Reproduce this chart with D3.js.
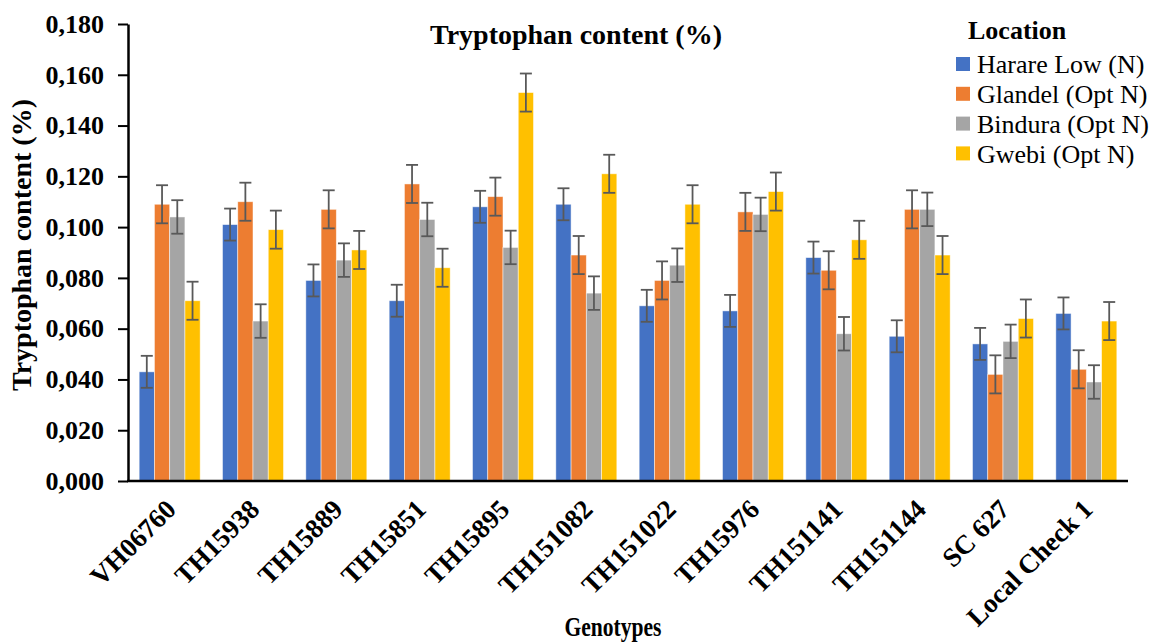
<!DOCTYPE html>
<html>
<head>
<meta charset="utf-8">
<script src="https://cdn.jsdelivr.net/npm/d3@7"></script>
<style>
  html, body { margin: 0; padding: 0; background: #fff; }
  svg { display: block; }
  svg text { font-family: "Liberation Serif", "Times New Roman", serif; }
</style>
</head>
<body>
<svg id="chart" width="1157" height="642"></svg>
<script>
// Genotypes on the x axis
const genotypes = ["VH06760", "TH15938", "TH15889", "TH15851", "TH15895", "TH151082",
  "TH151022", "TH15976", "TH151141", "TH151144", "SC 627", "Local Check 1"];

// Locations (series)
const locations = ["Harare Low (N)", "Glandel (Opt N)", "Bindura (Opt N)", "Gwebi (Opt N)"];
const colors = ["#4472C4", "#ED7D31", "#A5A5A5", "#FFC000"];

// Tryptophan content (%) per location, one value per genotype
const harareLow = [0.043, 0.101, 0.079, 0.071, 0.108, 0.109, 0.069, 0.067, 0.088, 0.057, 0.054, 0.066];
const glandel   = [0.109, 0.110, 0.107, 0.117, 0.112, 0.089, 0.079, 0.106, 0.083, 0.107, 0.042, 0.044];
const bindura   = [0.104, 0.063, 0.087, 0.103, 0.092, 0.074, 0.085, 0.105, 0.058, 0.107, 0.055, 0.039];
const gwebi     = [0.071, 0.099, 0.091, 0.084, 0.153, 0.121, 0.109, 0.114, 0.095, 0.089, 0.064, 0.063];

// Error bar half-widths per location
const errors = [0.0063, 0.0075, 0.0066, 0.0075];

// Y axis ticks
const yTicks = [0, 0.02, 0.04, 0.06, 0.08, 0.10, 0.12, 0.14, 0.16, 0.18];

const seriesValues = [harareLow, glandel, bindura, gwebi];
const serif = '"Liberation Serif", "Times New Roman", serif';

const svg = d3.select("#chart");
const plotLeft = 128, plotRight = 1128, plotTop = 24, plotBottom = 481;

const x0 = d3.scaleBand().domain(genotypes).range([plotLeft, plotRight])
  .paddingInner(0.268).paddingOuter(0.134);
const x1 = d3.scaleBand().domain(locations).range([0, x0.bandwidth()]);
const y = d3.scaleLinear().domain([0, 0.18]).range([plotBottom, plotTop]);

// Bars
const groups = svg.append("g").selectAll("g")
  .data(genotypes)
  .join("g")
  .attr("transform", d => `translate(${x0(d)},0)`);

groups.selectAll("rect")
  .data((g, gi) => locations.map((loc, si) => ({ loc, si, v: seriesValues[si][gi] })))
  .join("rect")
  .attr("x", d => x1(d.loc))
  .attr("y", d => y(d.v))
  .attr("width", x1.bandwidth())
  .attr("height", d => y(0) - y(d.v))
  .attr("fill", d => colors[d.si])
  .attr("stroke", "#ffffff")
  .attr("stroke-opacity", 0.6)
  .attr("stroke-width", 0.8);

// Error bars
const capHalf = 6;
const eb = groups.selectAll("g.err")
  .data((g, gi) => locations.map((loc, si) => ({ loc, si, v: seriesValues[si][gi], e: errors[si] })))
  .join("g")
  .attr("class", "err")
  .attr("stroke", "#595959")
  .attr("stroke-width", 1.8);
eb.append("line")
  .attr("x1", d => x1(d.loc) + x1.bandwidth() / 2)
  .attr("x2", d => x1(d.loc) + x1.bandwidth() / 2)
  .attr("y1", d => y(d.v + d.e))
  .attr("y2", d => y(d.v - d.e));
eb.append("line")
  .attr("x1", d => x1(d.loc) + x1.bandwidth() / 2 - capHalf)
  .attr("x2", d => x1(d.loc) + x1.bandwidth() / 2 + capHalf)
  .attr("y1", d => y(d.v + d.e))
  .attr("y2", d => y(d.v + d.e));
eb.append("line")
  .attr("x1", d => x1(d.loc) + x1.bandwidth() / 2 - capHalf)
  .attr("x2", d => x1(d.loc) + x1.bandwidth() / 2 + capHalf)
  .attr("y1", d => y(d.v - d.e))
  .attr("y2", d => y(d.v - d.e));

// Y axis
const yAxis = svg.append("g")
  .attr("transform", `translate(${plotLeft},0)`)
  .call(d3.axisLeft(y).tickValues(yTicks).tickSize(10).tickSizeOuter(0).tickPadding(14)
    .tickFormat(d => d3.format(".3f")(d).replace(".", ",")));
yAxis.select(".domain").attr("stroke", "#000").attr("stroke-width", 2.5);
yAxis.selectAll(".tick line").attr("stroke", "#000").attr("stroke-width", 2);
yAxis.selectAll(".tick text")
  .style("font-family", serif)
  .attr("font-size", 26).attr("font-weight", "bold").attr("fill", "#000");

// X axis
const xAxis = svg.append("g")
  .attr("transform", `translate(0,${plotBottom})`)
  .call(d3.axisBottom(x0).tickSize(0).tickSizeOuter(0).tickPadding(0));
xAxis.select(".domain").attr("stroke", "#000").attr("stroke-width", 2.5)
  .attr("d", `M${plotLeft - 1},0H${plotRight}`);
xAxis.selectAll(".tick text")
  .style("font-family", serif)
  .attr("font-size", 27).attr("font-weight", "bold").attr("fill", "#000")
  .attr("text-anchor", "end")
  .attr("dy", 0)
  .attr("y", 0)
  .attr("transform", "translate(8,30) rotate(-45)");

// Chart title
svg.append("text")
  .attr("x", 576).attr("y", 44)
  .attr("text-anchor", "middle")
  .attr("font-size", 28).attr("font-weight", "bold")
  .text("Tryptophan content (%)");

// Axis titles
svg.append("text")
  .attr("transform", "translate(31,245) rotate(-90)")
  .attr("text-anchor", "middle")
  .attr("font-size", 28).attr("font-weight", "bold")
  .text("Tryptophan content (%)");

svg.append("text")
  .attr("x", 613).attr("y", 636)
  .attr("text-anchor", "middle")
  .attr("font-size", 27).attr("font-weight", "bold")
  .attr("textLength", 97).attr("lengthAdjust", "spacingAndGlyphs")
  .text("Genotypes");

// Legend
const legend = svg.append("g");
legend.append("text")
  .attr("x", 968).attr("y", 39)
  .attr("font-size", 26).attr("font-weight", "bold")
  .text("Location");
const items = legend.selectAll("g.item")
  .data(locations)
  .join("g")
  .attr("class", "item")
  .attr("transform", (d, i) => `translate(956,${64 + i * 29.8})`);
items.append("rect")
  .attr("x", 0).attr("y", -7).attr("width", 14).attr("height", 14)
  .attr("fill", (d, i) => colors[i]);
items.append("text")
  .attr("x", 21).attr("y", 0).attr("dy", "0.35em")
  .attr("font-size", 26)
  .text(d => d);
</script>
</body>
</html>
